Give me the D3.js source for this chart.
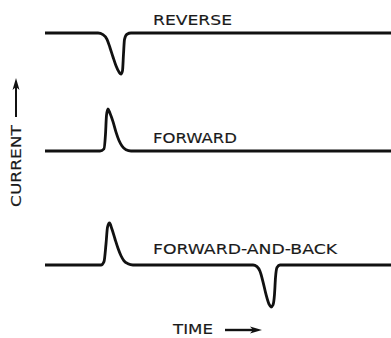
<!DOCTYPE html>
<html>
<head>
<meta charset="utf-8">
<script src="https://cdn.jsdelivr.net/npm/d3@7"></script>
<style>
  body { margin: 0; background: #fff; }
  text { font-family: "DejaVu Sans", sans-serif; fill: #1a1a1a; stroke: #1a1a1a; stroke-width: 0.15px; }
</style>
</head>
<body>
<svg id="chart" width="391" height="338"></svg>
<script>
(function() {
  // time in arbitrary units, current normalised to the pulse height
  const traceNames = ["REVERSE", "FORWARD", "FORWARD-AND-BACK"];

  const reverseTime    = [0, 53, 58, 62, 65, 68, 71, 74, 76, 77.5, 78.5, 79.5, 82, 86, 346];
  const reverseCurrent = [0, 0, -0.04, -0.15, -0.35, -0.57, -0.78, -0.93, -0.98, -0.9, -0.5, -0.15, -0.03, 0, 0];

  const forwardTime    = [0, 55, 59, 60.5, 61.5, 63, 65, 68, 71, 74, 77, 81, 86, 346];
  const forwardCurrent = [0, 0, 0.05, 0.4, 0.85, 1, 0.9, 0.7, 0.45, 0.25, 0.12, 0.03, 0, 0];

  const fwdBackTime    = [0, 56, 59, 61, 62.5, 64.5, 67, 70, 73, 76, 79, 83, 88,
                          208, 212, 215, 218, 221, 224, 226, 228, 229.5, 230.5, 232, 235, 346];
  const fwdBackCurrent = [0, 0, 0.08, 0.5, 0.9, 1, 0.85, 0.62, 0.4, 0.22, 0.1, 0.03, 0,
                          0, -0.04, -0.15, -0.4, -0.7, -0.93, -1, -0.95, -0.7, -0.3, -0.06, 0, 0];

  const yAxisLabel = "CURRENT";
  const xAxisLabel = "TIME";

  const traces = [
    { name: traceNames[0], time: reverseTime, current: reverseCurrent, baseline: 33, labelY: 25, labelW: 79 },
    { name: traceNames[1], time: forwardTime, current: forwardCurrent, baseline: 151, labelY: 143, labelW: 84 },
    { name: traceNames[2], time: fwdBackTime, current: fwdBackCurrent, baseline: 265, labelY: 254, labelW: 184 }
  ];

  const svg = d3.select('#chart');

  const x = d3.scaleLinear().domain([0, 346]).range([45, 391]);
  const PULSE_HEIGHT = 42;

  traces.forEach(trace => {
    const y = d3.scaleLinear()
                .domain([0, 1])
                .range([trace.baseline, trace.baseline - PULSE_HEIGHT]);
    const points = trace.time.map((t, i) => [t, trace.current[i]]);
    const line = d3.line()
                   .x(d => x(d[0]))
                   .y(d => y(d[1]))
                   .curve(d3.curveMonotoneX);

    svg.append('path')
        .datum(points)
        .attr('d', line)
        .attr('fill', 'none')
        .attr('stroke', '#111')
        .attr('stroke-width', 2.8)
        .attr('stroke-linejoin', 'round')
        .attr('stroke-linecap', 'butt');

    svg.append('text')
        .attr('x', 153)
        .attr('y', trace.labelY)
        .attr('font-size', 14)
        .attr('textLength', trace.labelW)
        .attr('lengthAdjust', 'spacingAndGlyphs')
        .text(trace.name);
  });

  // vertical axis label with arrow pointing up
  svg.append('text')
      .attr('transform', 'translate(21,207) rotate(-90)')
      .attr('font-size', 14)
      .attr('textLength', 82)
      .attr('lengthAdjust', 'spacingAndGlyphs')
      .text(yAxisLabel);

  svg.append('line')
      .attr('x1', 16).attr('y1', 117)
      .attr('x2', 16).attr('y2', 86)
      .attr('stroke', '#111')
      .attr('stroke-width', 2);
  svg.append('path')
      .attr('d', 'M16,78 L12.5,90 L16,87 L19.5,90 Z')
      .attr('fill', '#111');

  // horizontal axis label with arrow pointing right
  svg.append('text')
      .attr('x', 173)
      .attr('y', 334)
      .attr('font-size', 14)
      .attr('textLength', 40)
      .attr('lengthAdjust', 'spacingAndGlyphs')
      .text(xAxisLabel);

  svg.append('line')
      .attr('x1', 225).attr('y1', 330)
      .attr('x2', 254).attr('y2', 330)
      .attr('stroke', '#111')
      .attr('stroke-width', 2.4);
  svg.append('path')
      .attr('d', 'M262,330 L250,326.5 L253,330 L250,333.5 Z')
      .attr('fill', '#111');
})();
</script>
</body>
</html>
